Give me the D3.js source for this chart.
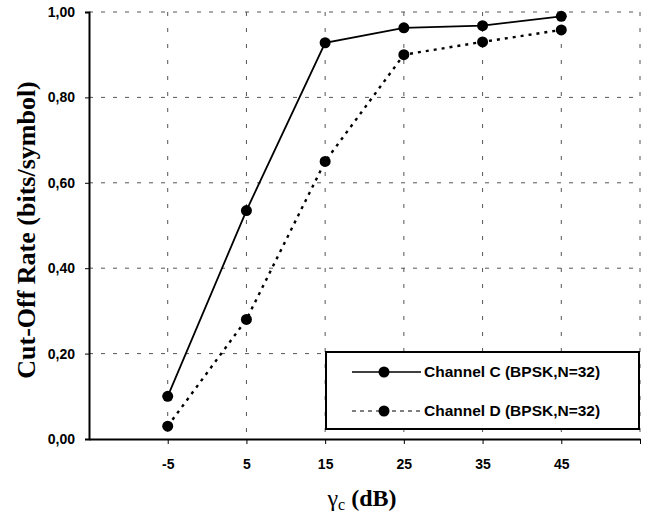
<!DOCTYPE html>
<html>
<head>
  <meta charset="utf-8">
  <title>Cut-Off Rate</title>
  <script src="https://d3js.org/d3.v7.min.js"></script>
  <style>
    body { margin: 0; background: #fff; }
  </style>
</head>
<body>
<svg class="chart"></svg>
<script>
// x categories (dB) and series values
const snr = [-5, 5, 15, 25, 35, 45];
const channelC = [0.10, 0.535, 0.928, 0.963, 0.968, 0.99];
const channelD = [0.03, 0.28, 0.65, 0.90, 0.93, 0.958];
const yTicks = [0, 0.2, 0.4, 0.6, 0.8, 1.0];
const seriesNames = ["Channel C (BPSK,N=32)", "Channel D (BPSK,N=32)"];

const W = 647, H = 523;
const margin = {top: 12, right: 7, bottom: 84, left: 89};
const width = W - margin.left - margin.right,
      height = H - margin.top - margin.bottom;

const svg = d3.select(".chart").attr("width", W).attr("height", H);
const chart = svg.append("g").attr("transform", `translate(${margin.left},${margin.top})`);

const x = d3.scaleLinear().domain([-15, 55]).range([0, width]);
const y = d3.scaleLinear().domain([0, 1]).range([height, 0]);
const fmt = d => d3.format(".2f")(d).replace(".", ",");

// grid lines
chart.selectAll(".hgrid").data(yTicks.slice(1)).join("line")
  .attr("x1", 0).attr("x2", width)
  .attr("y1", d => y(d)).attr("y2", d => y(d))
  .attr("stroke", "#555").attr("stroke-width", 1).attr("stroke-dasharray", "4,8");
chart.selectAll(".vgrid").data(snr.concat([55])).join("line")
  .attr("y1", 0).attr("y2", height)
  .attr("x1", d => x(d)).attr("x2", d => x(d))
  .attr("stroke", "#555").attr("stroke-width", 1).attr("stroke-dasharray", "4,12");

// axes
const yAxis = chart.append("g")
  .call(d3.axisLeft(y).tickValues(yTicks).tickFormat(fmt).tickSize(4));
yAxis.select(".domain").attr("stroke-width", 2);
yAxis.selectAll("text").attr("x", -14).style("font-family", "Arial, 'Liberation Sans'")
  .style("font-weight", "bold").style("font-size", "14px").attr("fill", "#000");

const xAxis = chart.append("g").attr("transform", `translate(0,${height})`)
  .call(d3.axisBottom(x).tickValues(snr.concat([55])).tickFormat(d => d === 55 ? "" : d).tickSize(5).tickSizeOuter(0));
xAxis.select(".domain").attr("stroke-width", 2);
xAxis.selectAll("text").attr("y", 20).style("font-family", "Arial, 'Liberation Sans'")
  .style("font-weight", "bold").style("font-size", "14px").attr("fill", "#000");

// lines
const line = d3.line().x((d, i) => x(snr[i])).y(d => y(d));
chart.append("path").datum(channelC).attr("d", line)
  .attr("fill", "none").attr("stroke", "#000").attr("stroke-width", 1.8);
chart.append("path").datum(channelD).attr("d", line)
  .attr("fill", "none").attr("stroke", "#000").attr("stroke-width", 2.4).attr("stroke-dasharray", "3,5");

[channelC, channelD].forEach(s => {
  chart.selectAll(null).data(s).join("circle")
    .attr("cx", (d, i) => x(snr[i])).attr("cy", d => y(d)).attr("r", 5.5).attr("fill", "#000");
});

// legend
const lg = svg.append("g").attr("transform", "translate(326,352)");
lg.append("rect").attr("width", 313).attr("height", 77)
  .attr("fill", "#fff").attr("stroke", "#000").attr("stroke-width", 2);
seriesNames.forEach((name, i) => {
  const yy = 20 + i * 39;
  lg.append("line").attr("x1", 26).attr("x2", 95).attr("y1", yy).attr("y2", yy)
    .attr("stroke", "#000").attr("stroke-width", i ? 1.2 : 1.5)
    .attr("stroke-dasharray", i ? "4,4" : null);
  lg.append("circle").attr("cx", 58).attr("cy", yy).attr("r", 5.5).attr("fill", "#000");
  lg.append("text").attr("x", 98).attr("y", yy + 5).text(name)
    .style("font-family", "Arial, 'Liberation Sans'").style("font-weight", "bold").style("font-size", "15.5px");
});

// axis titles
svg.append("text").attr("transform", "translate(35,230) rotate(-90)")
  .attr("text-anchor", "middle")
  .style("font-family", "'Times New Roman', 'Liberation Serif', serif")
  .style("font-weight", "bold").style("font-size", "26px")
  .text("Cut-Off Rate (bits/symbol)");

const xt = svg.append("text").attr("x", 362).attr("y", 506).attr("text-anchor", "middle")
  .style("font-family", "'Times New Roman', 'Liberation Serif', serif").style("font-size", "24px");
xt.append("tspan").text("γ");
xt.append("tspan").attr("dy", 4).style("font-size", "16px").text("c");
xt.append("tspan").attr("dy", -4).style("font-weight", "bold").text(" (dB)");
</script>
</body>
</html>
